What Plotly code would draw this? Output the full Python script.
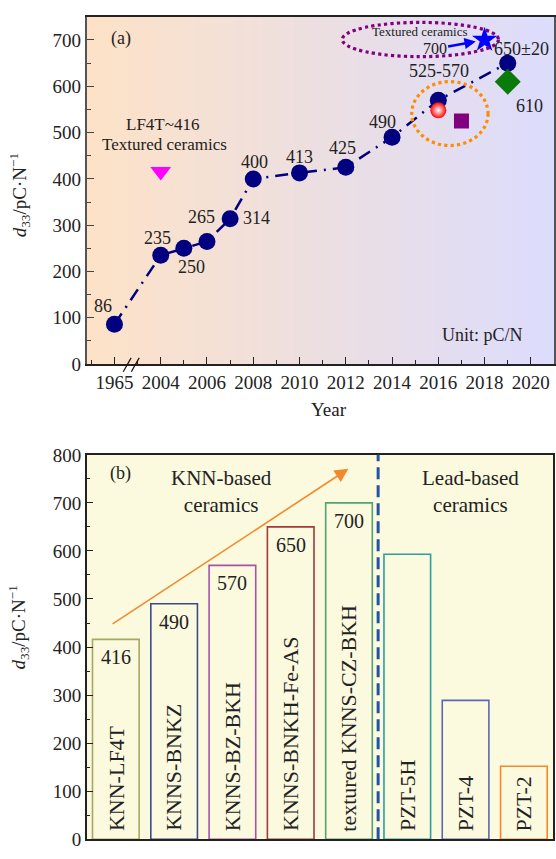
import plotly.graph_objects as go

# ---------------- Panel (a): d33 of KNN-based ceramics over the years ----------------
years = [1965, 2004, 2005, 2006, 2007, 2008, 2010, 2012, 2014, 2016, 2019]
d33_values = [86, 235, 250, 265, 314, 400, 413, 425, 490, 570, 650]
point_labels = ["86", "235", "250", "265", "314", "400", "413", "425", "490", "525-570", "650±20"]

# other reported ceramics
lf4t_year, lf4t_d33 = 2004, 416
sphere_year, sphere_d33 = 2016, 548
square_year, square_d33 = 2017, 525
star_year, star_d33 = 2018, 700
diamond_year, diamond_d33 = 2019, 610

tick_years = [1965, 2004, 2006, 2008, 2010, 2012, 2014, 2016, 2018, 2020]

# ---------------- Panel (b): d33 comparison ----------------
materials = ["KNN-LF4T", "KNNS-BNKZ", "KNNS-BZ-BKH", "KNNS-BNKH-Fe-AS",
             "textured KNNS-CZ-BKH", "PZT-5H", "PZT-4", "PZT-2"]
d33_bars = [416, 490, 570, 650, 700, 593, 289, 152]
value_shown = [True, True, True, True, True, False, False, False]

# ---------------- styling ----------------
FONT = "'Liberation Serif', 'DejaVu Serif', 'Times New Roman', serif"
NAVY = "#000080"
bar_edges = ["#a8a862", "#3c4a8c", "#a552a8", "#a23a3a", "#52a274", "#2e9e9e", "#5a68b6", "#f28a2a"]
# (dx, dy) pixel offsets of the value labels around each point
label_shift = [(-11, 18), (-3, 17), (8, -19), (-5, 24), (26, 1), (1, 17),
               (0, 16), (-3, 19), (-10, 15), (1, 29), (14, 14)]


def axis_pos(year):
    """Years before the axis break are drawn just left of 2004."""
    return 2002 if year < 2000 else year


fig = go.Figure()

# dash-dot trend line + milestone points
xs = [axis_pos(y) for y in years]
fig.add_trace(go.Scatter(
    x=xs, y=d33_values, mode="lines",
    line=dict(color=NAVY, width=2.5, dash="13px,7px,2px,7px"),
    xaxis="x", yaxis="y", showlegend=False, hoverinfo="skip"))
fig.add_trace(go.Scatter(
    x=xs, y=d33_values, mode="markers",
    marker=dict(color=NAVY, size=17, line=dict(width=0)),
    xaxis="x", yaxis="y", showlegend=False))

fig.add_trace(go.Scatter(x=[lf4t_year], y=[lf4t_d33], mode="markers",
                         marker=dict(symbol="triangle-down", color="#ff00ff", size=18, line=dict(width=0)),
                         xaxis="x", yaxis="y", showlegend=False))
fig.add_trace(go.Scatter(x=[sphere_year], y=[sphere_d33], mode="markers",
                         marker=dict(color="#ff0000", size=16, line=dict(width=0),
                                     gradient=dict(type="radial", color="#ffffff")),
                         xaxis="x", yaxis="y", showlegend=False))
fig.add_trace(go.Scatter(x=[square_year], y=[square_d33], mode="markers",
                         marker=dict(symbol="square", color="#800080", size=15, line=dict(width=0)),
                         xaxis="x", yaxis="y", showlegend=False))
fig.add_trace(go.Scatter(x=[star_year], y=[star_d33], mode="markers",
                         marker=dict(symbol="star", color="#0000ff", size=19, line=dict(width=0)),
                         xaxis="x", yaxis="y", showlegend=False))
fig.add_trace(go.Scatter(x=[diamond_year], y=[diamond_d33], mode="markers",
                         marker=dict(symbol="diamond", color="#0a7a0a", size=20, line=dict(width=0)),
                         xaxis="x", yaxis="y", showlegend=False))

# bars of panel (b): outlines only
idx = list(range(len(materials)))
fig.add_trace(go.Bar(
    x=idx, y=d33_bars, width=0.8,
    marker=dict(color="rgba(0,0,0,0)", line=dict(color=bar_edges, width=1.6)),
    xaxis="x2", yaxis="y2", showlegend=False))

shapes = []
# warm-to-cool gradient behind panel (a)
left_rgb = (253, 226, 199)
right_rgb = (220, 220, 252)
n_strips = 90
for i in range(n_strips):
    t = i / (n_strips - 1)
    c = tuple(round(left_rgb[k] + (right_rgb[k] - left_rgb[k]) * t) for k in range(3))
    shapes.append(dict(type="rect", xref="x domain", yref="y domain",
                       x0=i / n_strips, x1=(i + 1) / n_strips + 0.002, y0=0, y1=1,
                       fillcolor="rgb(%d,%d,%d)" % c, line=dict(width=0), layer="below"))

# axis break marks
for xb in (2002.55, 2002.9):
    shapes.append(dict(type="line", xref="x", yref="y domain",
                       x0=xb - 0.17, x1=xb + 0.17, y0=-0.022, y1=0.018,
                       line=dict(color="#111111", width=1.2)))

# highlight rings
shapes.append(dict(type="circle", xref="x", yref="y",
                   x0=2011.85, x1=2018.6, y0=664, y1=738,
                   line=dict(color="#800080", width=3.2, dash="dot")))
shapes.append(dict(type="circle", xref="x", yref="y",
                   x0=2014.85, x1=2018.15, y0=472, y1=610,
                   line=dict(color="#ff8c00", width=3.2, dash="dot")))

# dividing line between KNN-based and lead-based ceramics
shapes.append(dict(type="line", xref="x2", yref="y2 domain",
                   x0=4.5, x1=4.5, y0=0, y1=1,
                   line=dict(color="#2452a6", width=3, dash="12px,6px")))

annotations = []
txt = dict(family=FONT, size=18, color="#222222")
for x, y, lab, (dx, dy) in zip(xs, d33_values, point_labels, label_shift):
    annotations.append(dict(x=x, y=y, xref="x", yref="y", text=lab, showarrow=False,
                            xshift=dx, yshift=dy, font=txt))

annotations += [
    dict(x=diamond_year, y=diamond_d33, xref="x", yref="y", text=str(diamond_d33),
         showarrow=False, xshift=22, yshift=-24, font=txt),
    dict(x=lf4t_year, y=lf4t_d33, xref="x", yref="y", text="LF4T~%d" % lf4t_d33,
         showarrow=False, xshift=2, yshift=47, font=dict(family=FONT, size=17, color="#222")),
    dict(x=lf4t_year, y=lf4t_d33, xref="x", yref="y", text="Textured ceramics",
         showarrow=False, xshift=4, yshift=27, font=dict(family=FONT, size=17, color="#222")),
    dict(x=star_year, y=star_d33, xref="x", yref="y", text=str(star_d33),
         showarrow=True, ax=-50, ay=9, arrowcolor="#0000ff", arrowwidth=2.5,
         arrowhead=2, arrowsize=0.9, standoff=9, font=dict(family=FONT, size=16, color="#222")),
    dict(x=2015.2, y=718, xref="x", yref="y", text="Textured ceramics", showarrow=False,
         font=dict(family=FONT, size=13, color="#222")),
    dict(x=2017.9, y=63, xref="x", yref="y", text="Unit: pC/N", showarrow=False,
         font=dict(family=FONT, size=18, color="#222")),
    dict(x=0.073, y=0.938, xref="x domain", yref="y domain", text="(a)", showarrow=False,
         xanchor="center", yanchor="middle", font=dict(family=FONT, size=18, color="#222")),
    dict(x=330, y=410, xref="paper", yref="paper", text="Year", showarrow=False,
         xanchor="center", yanchor="middle", font=dict(family=FONT, size=19, color="#222")),
]

# panel (b) texts
for i, (name, v, show) in enumerate(zip(materials, d33_bars, value_shown)):
    annotations.append(dict(x=i, y=0, xref="x2", yref="y2", text=name, textangle=-90,
                            showarrow=False, xanchor="center", yanchor="bottom", yshift=6,
                            font=dict(family=FONT, size=22, color="#222")))
    if show:
        annotations.append(dict(x=i, y=v, xref="x2", yref="y2", text=str(v),
                                showarrow=False, yanchor="top", yshift=-5,
                                font=dict(family=FONT, size=20, color="#222")))

annotations += [
    dict(x=3.99, y=771, ax=-0.08, ay=446, xref="x2", yref="y2", axref="x2", ayref="y2",
         text="", showarrow=True, arrowcolor="#f28a2a", arrowwidth=1.6,
         arrowhead=2, arrowsize=1.7),
    dict(x=1.82, y=724, xref="x2", yref="y2", text="KNN-based<br>ceramics", showarrow=False,
         xanchor="center", yanchor="middle", font=dict(family=FONT, size=21, color="#222")),
    dict(x=6.09, y=724, xref="x2", yref="y2", text="Lead-based<br>ceramics", showarrow=False,
         xanchor="center", yanchor="middle", font=dict(family=FONT, size=21, color="#222")),
    dict(x=0.073, y=0.952, xref="x2 domain", yref="y2 domain", text="(b)", showarrow=False,
         xanchor="center", yanchor="middle", font=dict(family=FONT, size=18, color="#222")),
]

# rotated y titles
ytitle = "<i>d</i><sub>33</sub>/pC·N<sup>−1</sup>"
for ypix in (190, 633):
    annotations.append(dict(x=19, y=ypix, xref="paper", yref="paper", text=ytitle,
                            textangle=-90, showarrow=False, xanchor="center", yanchor="middle",
                            font=dict(family=FONT, size=19, color="#222")))

# convert the pixel-placed paper annotations
W, H = 556, 859
for a in annotations:
    if a.get("xref") == "paper" and a["x"] > 1:
        a["x"] = a["x"] / W
    if a.get("yref") == "paper" and a["y"] > 1:
        a["y"] = 1 - a["y"] / H

tickfont = dict(family=FONT, size=19, color="#222222")
fig.update_layout(
    width=W, height=H, margin=dict(l=0, r=0, t=0, b=0),
    paper_bgcolor="white", plot_bgcolor="#fbf9de",
    font=dict(family=FONT),
    shapes=shapes, annotations=annotations, bargap=0.2,
    xaxis=dict(domain=[87 / W, 1.0], range=[2000.8, 2021.0],
               tickmode="array", tickvals=[axis_pos(y) for y in tick_years],
               ticktext=[str(y) for y in tick_years],
               ticks="inside", ticklen=7, tickcolor="#222", tickwidth=1.2,
               minor=dict(tickvals=list(range(2001, 2022, 2)), ticks="inside", ticklen=4,
                          tickcolor="#222"),
               showline=True, linecolor="#222", linewidth=1.5, mirror=True,
               showgrid=False, zeroline=False, tickfont=tickfont, anchor="y"),
    yaxis=dict(domain=[1 - 363 / H, 1 - 7 / H], range=[0, 750],
               tickvals=list(range(0, 701, 100)),
               ticks="inside", ticklen=7, tickcolor="#444", tickwidth=1.2,
               minor=dict(dtick=50, ticks="inside", ticklen=4, tickcolor="#444"),
               showline=True, linecolor="#555", linewidth=2, mirror=True,
               showgrid=False, zeroline=False, tickfont=tickfont, anchor="x"),
    xaxis2=dict(domain=[87 / W, 555 / W], range=[-0.5, 7.5], showticklabels=False,
                ticks="", showline=True, linecolor="#222", linewidth=1.5, mirror=True,
                showgrid=False, zeroline=False, anchor="y2"),
    yaxis2=dict(domain=[1 - 850 / H, 1 - 456 / H], range=[0, 800],
                tickvals=list(range(0, 801, 100)),
                ticks="inside", ticklen=7, tickcolor="#222", tickwidth=1.2,
                minor=dict(dtick=50, ticks="inside", ticklen=4, tickcolor="#222"),
                showline=True, linecolor="#222", linewidth=1.5, mirror=True,
                showgrid=False, zeroline=False, tickfont=tickfont, anchor="x2"),
)

fig.write_html("out.html")
